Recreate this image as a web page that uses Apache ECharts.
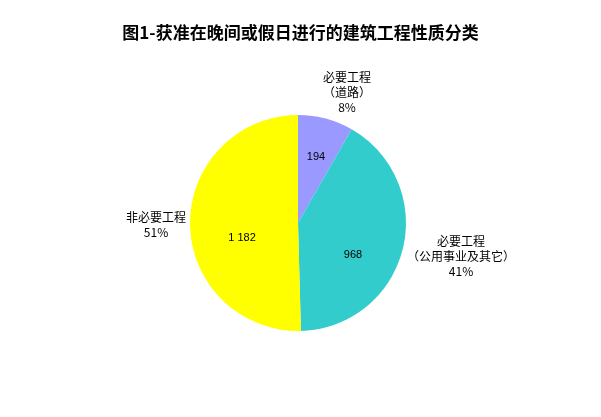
<!DOCTYPE html>
<html>
<head>
<meta charset="utf-8">
<script src="https://cdn.jsdelivr.net/npm/echarts@6/dist/echarts.min.js"></script>
<style>
    html, body { margin: 0; padding: 0; background: #fff; }
    #main { width: 601px; height: 417px; }
</style>
</head>
<body>
<div id="main"></div>
<script type="text/javascript">
    // 数据
    var names = ['必要工程\n（道路）', '必要工程\n（公用事业及其它）', '非必要工程'];
    var values = [194, 968, 1182];
    var pctLabels = ['8%', '41%', '51%'];
    var colors = ['#9999FF', '#33CCCC', '#FFFF00'];

    // 标签位置
    var innerPos = [[316, 157], [353, 255], [242, 238]];
    var outerPos = [[347, 92], [461, 256], [156, 225]];

    function fmt(v) {
        return String(v).replace(/\B(?=(\d{3})+(?!\d))/g, ' ');
    }

    var data = names.map(function (n, i) {
        return { name: n, value: values[i], itemStyle: { color: colors[i] } };
    });

    var myChart = echarts.init(document.getElementById('main'));

    var option = {
        backgroundColor: '#fff',
        animation: false,
        title: {
            left: 'center',
            top: 19,
            text: '图1-获准在晚间或假日进行的建筑工程性质分类',
            textStyle: {
                fontFamily: 'Noto Sans CJK SC',
                fontWeight: 'bold',
                fontSize: 17,
                color: '#000'
            }
        },
        series: [{
            type: 'pie',
            center: [298, 223],
            radius: 108,
            startAngle: 90,
            clockwise: true,
            data: data,
            itemStyle: { borderWidth: 0 },
            emphasis: { disabled: true },
            label: {
                show: true,
                position: 'inside',
                formatter: function (p) { return fmt(p.value); },
                fontFamily: 'Liberation Sans',
                fontSize: 11,
                color: '#000'
            },
            labelLayout: function (p) {
                var q = innerPos[p.dataIndex];
                return { x: q[0], y: q[1], align: 'center', verticalAlign: 'middle' };
            }
        }, {
            type: 'pie',
            center: [298, 223],
            radius: 108,
            startAngle: 90,
            clockwise: true,
            silent: true,
            data: data.map(function (d) {
                return { name: d.name, value: d.value, itemStyle: { color: 'rgba(0,0,0,0)' } };
            }),
            label: {
                show: true,
                position: 'outside',
                formatter: function (p) { return p.name + '\n' + pctLabels[p.dataIndex]; },
                fontFamily: 'Noto Sans CJK SC',
                fontSize: 12,
                lineHeight: 15,
                color: '#000',
                align: 'center'
            },
            labelLine: { show: false },
            labelLayout: function (p) {
                var q = outerPos[p.dataIndex];
                return { x: q[0], y: q[1], align: 'center', verticalAlign: 'middle' };
            }
        }]
    };

    myChart.setOption(option);
</script>
</body>
</html>
